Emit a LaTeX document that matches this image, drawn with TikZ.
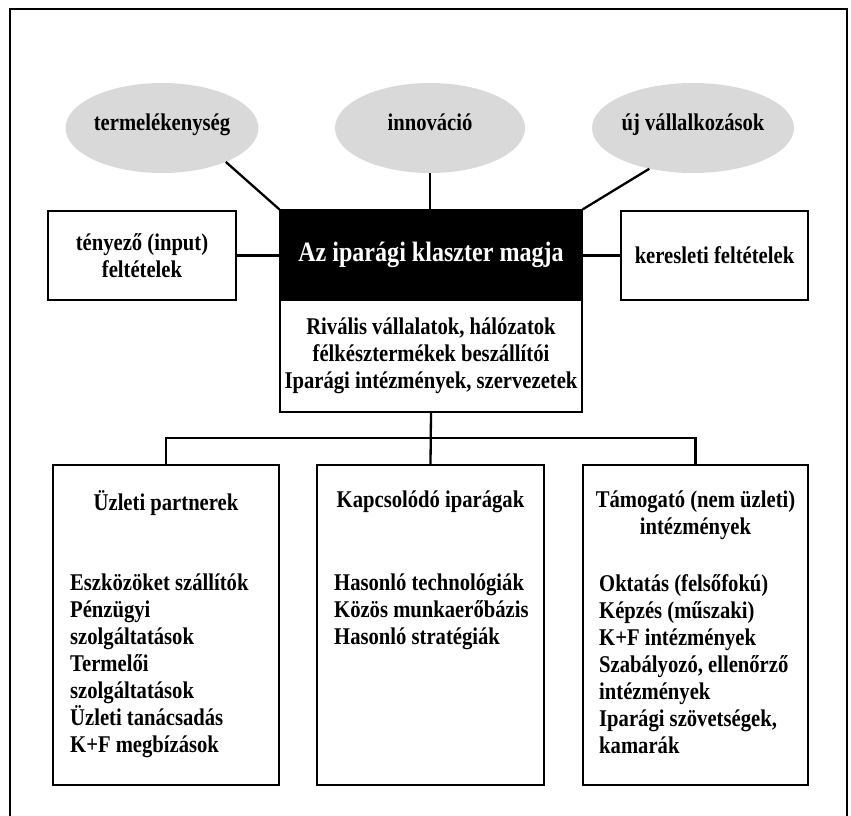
\documentclass[tikz,border=0pt]{standalone}
\usepackage{fontspec}
\setmainfont{Liberation Serif}[FakeStretch=0.86]
\usetikzlibrary{shapes.geometric}
\begin{document}
\begin{tikzpicture}[x=1pt,y=-1pt,
  txt/.style={font=\fontsize{24}{27}\selectfont\bfseries},
  ell/.style={ellipse,fill=gray!30,minimum width=190pt,minimum height=90pt,inner sep=0pt,
    text height=14pt,text depth=10pt,txt},
  box/.style={draw,line width=1.1pt,fill=white,inner sep=0pt},
  conn/.style={line width=2.3pt},
  frame/.style={line width=2.3pt}
]
\useasboundingbox (0,0) rectangle (851,815);

% outer frame, open at the bottom
\draw[frame] (10,830) -- (10,9) -- (847,9) -- (847,830);

% outcomes of the cluster
\node[ell] (prod) at (162,128) {termelékenység};
\node[ell] (inno) at (430,128) {innováció};
\node[ell] (newf) at (693,128) {új vállalkozások};

% cluster core and its members
\node[box,fill=black,minimum width=302pt,minimum height=90pt] (core) at (431,255)
  {\color{white}\fontsize{28}{30}\selectfont\bfseries Az iparági klaszter magja};
\node[box,minimum width=302pt,minimum height=112pt,align=center,txt] (members) at (431,356)
  {Rivális vállalatok, hálózatok\\félkésztermékek beszállítói\\Iparági intézmények, szervezetek};

% side conditions
\node[box,minimum width=188pt,minimum height=89pt,align=center,txt] (factor) at (142,255.5)
  {tényező (input)\\feltételek};
\node[box,minimum width=187pt,minimum height=89pt,align=center,txt] (demand) at (714.5,255.5)
  {keresleti feltételek};

% connectors around the core
\draw[conn] (prod.-28) -- (core.north west);
\draw[conn] (inno.south) -- (inno.south |- core.north);
\draw[conn] (newf.-137) -- (core.north east);
\draw[conn] (factor.east) -- (factor.east -| core.west);
\draw[conn] (core.east |- demand.west) -- (demand.west);

% related groups
\node[box,minimum width=226pt,minimum height=320pt] (partners) at (166,625) {};
\node[box,minimum width=227pt,minimum height=320pt] (related) at (430.5,625) {};
\node[box,minimum width=225pt,minimum height=320pt] (support) at (695.5,625) {};

\coordinate (bar) at (430,438);
\draw[conn] (members.south) -- (related.north);
\draw[conn] (partners.north) |- (bar) -| (support.north);

% group headings
\node[txt,align=center] (h1) at (166,503) {Üzleti partnerek};
\node[txt,align=center] (h2) at (430.5,502) {Kapcsolódó iparágak};
\node[txt,align=center] (h3) at (695.5,515.5) {Támogató (nem üzleti)\\intézmények};

% group members
\node[txt,align=left,anchor=north west,inner sep=0pt] (l1) at (70,574)
  {Eszközöket szállítók\\Pénzügyi\\szolgáltatások\\Termelői\\szolgáltatások\\Üzleti tanácsadás\\K+F megbízások};
\node[txt,align=left,anchor=north west,inner sep=0pt] (l2) at (334,574)
  {Hasonló technológiák\\Közös munkaerőbázis\\Hasonló stratégiák};
\node[txt,align=left,anchor=north west,inner sep=0pt] (l3) at (599,574)
  {Oktatás (felsőfokú)\\Képzés (műszaki)\\K+F intézmények\\Szabályozó, ellenőrző\\intézmények\\Iparági szövetségek,\\kamarák};
\end{tikzpicture}
\end{document}
